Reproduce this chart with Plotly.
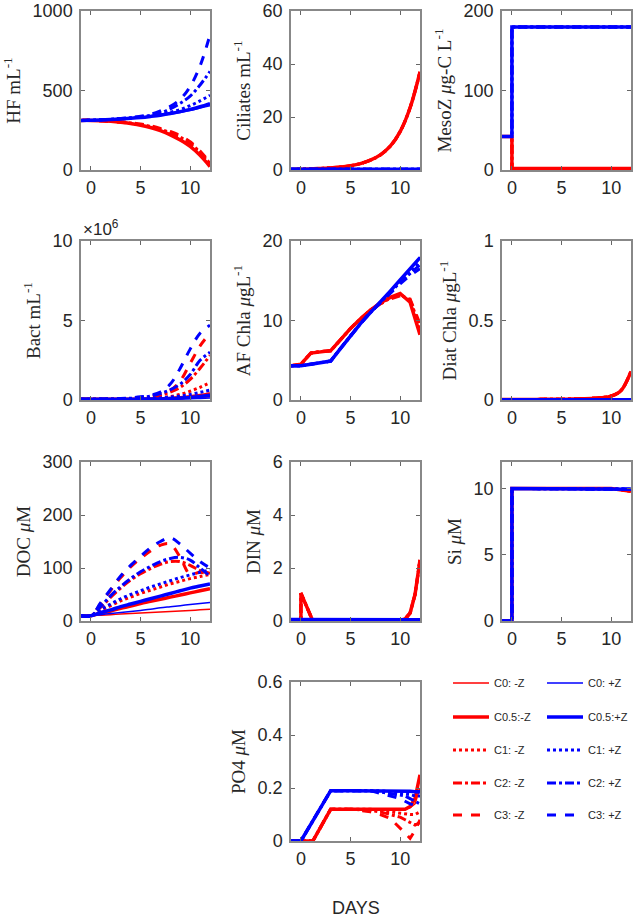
import plotly.graph_objects as go

W, H = 633, 917

# ---------------- data ----------------
days = [-1, 0, 1, 2, 3, 4, 5, 6, 7, 8, 9, 10, 11, 12]

red_labels = ["C0: -Z", "C0.5:-Z", "C1: -Z", "C2: -Z", "C3: -Z"]
blue_labels = ["C0: +Z", "C0.5:+Z", "C1: +Z", "C2: +Z", "C3: +Z"]

# HF mL-1
hf_m_c0 = [312, 312, 310, 306, 300, 292, 282, 268, 248, 222, 190, 150, 95, 25]
hf_m_c05 = [312, 312, 310, 306, 300, 292, 282, 267, 247, 221, 188, 148, 92, 22]
hf_m_c1 = [312, 312, 310, 306, 301, 293, 284, 271, 252, 228, 198, 160, 105, 35]
hf_m_c2 = [312, 312, 310, 307, 302, 295, 286, 274, 257, 235, 207, 168, 112, 40]
hf_m_c3 = [312, 312, 310, 307, 303, 297, 289, 278, 262, 242, 216, 178, 120, 45]
hf_p_c0 = [312, 313, 315, 318, 321, 325, 330, 336, 343, 352, 362, 374, 390, 405]
hf_p_c05 = [312, 313, 315, 318, 321, 325, 330, 337, 345, 355, 367, 381, 398, 418]
hf_p_c1 = [312, 313, 315, 318, 322, 327, 333, 340, 350, 363, 380, 405, 435, 470]
hf_p_c2 = [312, 313, 315, 319, 323, 328, 335, 344, 358, 385, 420, 465, 535, 620]
hf_p_c3 = [312, 313, 316, 319, 324, 330, 338, 350, 372, 400, 445, 525, 655, 850]

# Ciliates mL-1
cil_m = [0.2, 0.3, 0.4, 0.6, 0.8, 1.1, 1.6, 2.4, 3.7, 5.7, 9.0, 14.5, 23.5, 37.0]
cil_p = [0.3, 0.3, 0.3, 0.3, 0.3, 0.3, 0.3, 0.3, 0.3, 0.3, 0.3, 0.3, 0.3, 0.3]

# MesoZ ug-C L-1
meso_days = [-1, 0, 0, 12]
meso_m = [42, 42, 2, 2]
meso_p = [42, 42, 180, 180]

# Bact mL-1 (x 10^6)
bact_m_c0 = [0.05, 0.05, 0.05, 0.05, 0.05, 0.05, 0.05, 0.06, 0.07, 0.08, 0.10, 0.12, 0.15, 0.20]
bact_m_c05 = [0.05, 0.05, 0.05, 0.05, 0.05, 0.05, 0.06, 0.07, 0.08, 0.10, 0.14, 0.20, 0.28, 0.40]
bact_m_c1 = [0.05, 0.05, 0.05, 0.05, 0.05, 0.06, 0.08, 0.10, 0.15, 0.22, 0.35, 0.55, 0.80, 1.10]
bact_m_c2 = [0.05, 0.05, 0.05, 0.06, 0.07, 0.09, 0.12, 0.18, 0.30, 0.50, 0.80, 1.30, 2.00, 2.80]
bact_m_c3 = [0.05, 0.05, 0.05, 0.06, 0.08, 0.11, 0.16, 0.22, 0.32, 0.60, 1.20, 2.30, 3.40, 4.20]
bact_p_c0 = [0.05, 0.05, 0.05, 0.05, 0.05, 0.05, 0.05, 0.05, 0.06, 0.06, 0.07, 0.08, 0.10, 0.12]
bact_p_c05 = [0.05, 0.05, 0.05, 0.05, 0.05, 0.05, 0.06, 0.06, 0.07, 0.09, 0.12, 0.16, 0.22, 0.30]
bact_p_c1 = [0.05, 0.05, 0.05, 0.05, 0.05, 0.06, 0.07, 0.09, 0.13, 0.18, 0.25, 0.35, 0.48, 0.62]
bact_p_c2 = [0.05, 0.05, 0.05, 0.06, 0.08, 0.11, 0.16, 0.25, 0.40, 0.65, 1.00, 1.60, 2.50, 3.00]
bact_p_c3 = [0.05, 0.05, 0.06, 0.07, 0.09, 0.13, 0.20, 0.30, 0.50, 1.00, 2.00, 3.20, 4.20, 4.70]

# AF Chla ug L-1
af_m_c0 = [4.3, 4.5, 5.9, 6.1, 6.2, 7.6, 9.0, 10.2, 11.3, 12.2, 12.9, 13.4, 12.4, 8.4]
af_m_c05 = [4.3, 4.5, 5.9, 6.1, 6.2, 7.6, 9.0, 10.2, 11.3, 12.2, 12.9, 13.4, 12.3, 8.2]
af_m_c1 = [4.3, 4.5, 5.9, 6.1, 6.2, 7.6, 9.0, 10.2, 11.3, 12.2, 12.9, 13.3, 12.5, 8.8]
af_m_c2 = [4.3, 4.5, 5.9, 6.1, 6.2, 7.6, 9.0, 10.2, 11.3, 12.1, 12.8, 13.2, 12.6, 9.2]
af_m_c3 = [4.3, 4.5, 5.9, 6.1, 6.2, 7.6, 9.0, 10.2, 11.2, 12.1, 12.7, 13.1, 12.7, 9.6]
af_p_c0 = [4.3, 4.3, 4.5, 4.7, 4.9, 6.5, 8.1, 9.6, 11.0, 12.3, 13.7, 15.1, 16.6, 18.0]
af_p_c05 = [4.3, 4.3, 4.5, 4.7, 4.9, 6.5, 8.1, 9.6, 11.0, 12.3, 13.7, 15.1, 16.5, 17.9]
af_p_c1 = [4.3, 4.3, 4.5, 4.7, 4.9, 6.5, 8.1, 9.6, 11.0, 12.3, 13.6, 14.9, 16.2, 17.4]
af_p_c2 = [4.3, 4.3, 4.5, 4.7, 4.9, 6.5, 8.1, 9.6, 11.0, 12.3, 13.6, 14.8, 15.9, 17.0]
af_p_c3 = [4.3, 4.3, 4.5, 4.7, 4.9, 6.5, 8.1, 9.6, 11.0, 12.2, 13.5, 14.6, 15.7, 16.5]

# Diat Chla ug L-1
diat_m = [0.003, 0.003, 0.003, 0.003, 0.004, 0.004, 0.005, 0.006, 0.008, 0.010, 0.015, 0.025, 0.060, 0.180]
diat_p = [0.002, 0.002, 0.002, 0.002, 0.002, 0.002, 0.002, 0.002, 0.002, 0.002, 0.002, 0.002, 0.002, 0.002]

# DOC uM
doc_m_c0 = [10, 10, 11, 12, 13, 14, 15, 16, 17, 18, 19, 20, 21, 22]
doc_m_c05 = [10, 10, 15, 19, 24, 28, 33, 37, 41, 45, 49, 53, 57, 61]
doc_m_c1 = [10, 10, 20, 29, 38, 45, 52, 58, 64, 70, 75, 80, 84, 88]
doc_m_c2 = [10, 10, 26, 45, 62, 77, 89, 99, 107, 112, 112, 105, 95, 90]
doc_m_c3 = [10, 10, 33, 58, 82, 102, 118, 132, 143, 145, 120, 88, 92, 88]
doc_p_c0 = [10, 10, 12, 14, 16, 18, 20, 22, 25, 27, 29, 31, 33, 35]
doc_p_c05 = [10, 10, 16, 21, 27, 32, 37, 42, 47, 52, 57, 62, 66, 70]
doc_p_c1 = [10, 10, 22, 32, 42, 50, 57, 64, 70, 76, 82, 87, 92, 96]
doc_p_c2 = [10, 10, 28, 48, 65, 80, 93, 103, 112, 118, 120, 115, 100, 85]
doc_p_c3 = [10, 10, 35, 60, 85, 105, 122, 138, 150, 157, 145, 128, 112, 100]

# DIN uM
din_days = [-1, 0, 0, 1.2, 6, 10, 10.5, 11, 11.5, 12]
din_m = [0, 0, 1.05, 0, 0, 0.02, 0.08, 0.3, 1.0, 2.3]
din_p = [0.06, 0.06, 0.06, 0.05, 0.05, 0.05, 0.05, 0.05, 0.05, 0.05]

# Si uM
si_days = [-1, 0, 0, 10, 12]
si_m = [0, 0, 10, 10, 9.8]
si_p = [0, 0, 10, 10, 9.95]

# PO4 uM
po4_days = [-1, 0, 1.2, 3, 5, 7, 8, 9, 10, 10.5, 11, 11.5, 12]
po4_m_c0 = [0, 0, 0, 0.12, 0.12, 0.12, 0.12, 0.12, 0.12, 0.12, 0.125, 0.14, 0.20]
po4_m_c05 = [0, 0, 0, 0.12, 0.12, 0.12, 0.12, 0.12, 0.12, 0.12, 0.13, 0.16, 0.25]
po4_m_c1 = [0, 0, 0, 0.12, 0.12, 0.12, 0.115, 0.11, 0.105, 0.10, 0.10, 0.10, 0.11]
po4_m_c2 = [0, 0, 0, 0.12, 0.12, 0.115, 0.11, 0.10, 0.09, 0.08, 0.07, 0.06, 0.07]
po4_m_c3 = [0, 0, 0, 0.12, 0.12, 0.11, 0.10, 0.085, 0.05, 0.03, 0.01, 0.04, 0.08]
po4_p_c0 = [0, 0, 0.076, 0.19, 0.19, 0.19, 0.19, 0.19, 0.19, 0.19, 0.19, 0.19, 0.19]
po4_p_c05 = [0, 0, 0.076, 0.19, 0.19, 0.19, 0.19, 0.19, 0.19, 0.19, 0.188, 0.186, 0.185]
po4_p_c1 = [0, 0, 0.076, 0.19, 0.19, 0.19, 0.19, 0.185, 0.18, 0.18, 0.175, 0.17, 0.17]
po4_p_c2 = [0, 0, 0.076, 0.19, 0.19, 0.19, 0.185, 0.18, 0.175, 0.17, 0.16, 0.15, 0.14]
po4_p_c3 = [0, 0, 0.076, 0.19, 0.19, 0.19, 0.18, 0.17, 0.16, 0.15, 0.14, 0.135, 0.13]

# ---------------- panels ----------------
panels = [
    dict(title="HF mL<sup>-1</sup>", x=days, shape="spline",
         red=[hf_m_c0, hf_m_c05, hf_m_c1, hf_m_c2, hf_m_c3],
         blue=[hf_p_c0, hf_p_c05, hf_p_c1, hf_p_c2, hf_p_c3],
         yr=[0, 1000], yt=[0, 500, 1000], col=0, row=0),
    dict(title="Ciliates mL<sup>-1</sup>", x=days, shape="spline",
         red=[cil_m] * 5, blue=[cil_p] * 5,
         yr=[0, 60], yt=[0, 20, 40, 60], col=1, row=0),
    dict(title="MesoZ <i>\u03bc</i>g-C L<sup>-1</sup>", x=meso_days, shape="linear",
         red=[meso_m] * 5, blue=[meso_p] * 5,
         yr=[0, 200], yt=[0, 100, 200], col=2, row=0),
    dict(title="Bact mL<sup>-1</sup>", x=days, shape="spline",
         red=[bact_m_c0, bact_m_c05, bact_m_c1, bact_m_c2, bact_m_c3],
         blue=[bact_p_c0, bact_p_c05, bact_p_c1, bact_p_c2, bact_p_c3],
         yr=[0, 10], yt=[0, 5, 10], col=0, row=1),
    dict(title="AF Chla <i>\u03bc</i>gL<sup>-1</sup>", x=days, shape="linear",
         red=[af_m_c0, af_m_c05, af_m_c1, af_m_c2, af_m_c3],
         blue=[af_p_c0, af_p_c05, af_p_c1, af_p_c2, af_p_c3],
         yr=[0, 20], yt=[0, 10, 20], col=1, row=1),
    dict(title="Diat Chla <i>\u03bc</i>gL<sup>-1</sup>", x=days, shape="spline",
         red=[diat_m] * 5, blue=[diat_p] * 5,
         yr=[0, 1], yt=[0, 0.5, 1], col=2, row=1),
    dict(title="DOC <i>\u03bc</i>M", x=days, shape="spline",
         red=[doc_m_c0, doc_m_c05, doc_m_c1, doc_m_c2, doc_m_c3],
         blue=[doc_p_c0, doc_p_c05, doc_p_c1, doc_p_c2, doc_p_c3],
         yr=[0, 300], yt=[0, 100, 200, 300], col=0, row=2),
    dict(title="DIN <i>\u03bc</i>M", x=din_days, shape="linear",
         red=[din_m] * 5, blue=[din_p] * 5,
         yr=[0, 6], yt=[0, 2, 4, 6], col=1, row=2),
    dict(title="Si <i>\u03bc</i>M", x=si_days, shape="linear",
         red=[si_m] * 5, blue=[si_p] * 5,
         yr=[0, 12], yt=[0, 5, 10], col=2, row=2),
    dict(title="PO4 <i>\u03bc</i>M", x=po4_days, shape="linear",
         red=[po4_m_c0, po4_m_c05, po4_m_c1, po4_m_c2, po4_m_c3],
         blue=[po4_p_c0, po4_p_c05, po4_p_c1, po4_p_c2, po4_p_c3],
         yr=[0, 0.6], yt=[0, 0.2, 0.4, 0.6], col=1, row=3),
]

# ---------------- styling ----------------
col_px = [(81, 210), (291, 420), (502, 631)]
row_px = [(11, 170), (241, 400), (462, 621), (682, 841)]
line_styles = [
    dict(width=1.5, dash="solid"),
    dict(width=3.5, dash="solid"),
    dict(width=3, dash="dot"),
    dict(width=3, dash="dashdot"),
    dict(width=3, dash="dash"),
]
RED, BLUE = "#ff0000", "#0000ff"
TXT = "#262626"
SANS = "Liberation Sans, Arial, sans-serif"
SERIF = "Liberation Serif, Times New Roman, serif"

legend_keys = ["legend"] + ["legend%d" % i for i in range(2, 11)]

fig = go.Figure()
layout = dict(
    width=W, height=H, margin=dict(l=0, r=0, t=0, b=0, pad=0, autoexpand=False),
    paper_bgcolor="white", plot_bgcolor="white", showlegend=True,
)

for k, p in enumerate(panels, start=1):
    xa = "x" if k == 1 else "x%d" % k
    ya = "y" if k == 1 else "y%d" % k
    (x0, x1) = col_px[p["col"]]
    (y0, y1) = row_px[p["row"]]
    layout["xaxis" if k == 1 else "xaxis%d" % k] = dict(
        domain=[x0 / W, x1 / W], anchor=ya, range=[-1, 12],
        tickvals=[0, 5, 10], ticks="inside", ticklen=4, tickcolor="#666",
        showline=True, mirror="ticks", linecolor="#888", linewidth=1.5,
        showgrid=False, zeroline=False, ticklabelstandoff=1,
        tickfont=dict(family=SANS, size=18, color=TXT),
    )
    layout["yaxis" if k == 1 else "yaxis%d" % k] = dict(
        domain=[1 - y1 / H, 1 - y0 / H], anchor=xa, range=p["yr"],
        tickvals=p["yt"], ticks="inside", ticklen=4, tickcolor="#666",
        showline=True, mirror="ticks", linecolor="#888", linewidth=1.5,
        showgrid=False, zeroline=False, ticklabelstandoff=3,
        tickfont=dict(family=SANS, size=18, color=TXT),
        title=dict(text=p["title"], standoff=7,
                   font=dict(family=SERIF, size=19, color=TXT)),
    )
    groups = [(p["red"], RED, red_labels, 0), (p["blue"], BLUE, blue_labels, 5)]
    for vals_list, color, labels, off in groups:
        for j, vals in enumerate(vals_list):
            st = line_styles[j]
            fig.add_trace(go.Scatter(
                x=p["x"], y=vals, xaxis=xa, yaxis=ya, mode="lines",
                line=dict(color=color, width=st["width"], dash=st["dash"],
                          shape=p["shape"]),
                name=labels[j], showlegend=(k == 1),
                legend=legend_keys[off + j],
            ))

# legends, one entry each, arranged 2 columns x 5 rows
leg_cols = [448, 542]
leg_rows = [683, 717, 750, 783, 815]
for i, key in enumerate(legend_keys):
    c = i // 5
    r = i % 5
    layout[key] = dict(
        x=leg_cols[c] / W, y=1 - leg_rows[r] / H, xanchor="left", yanchor="middle",
        bgcolor="rgba(0,0,0,0)", borderwidth=0, itemwidth=36,
        font=dict(family=SANS, size=11, color=TXT),
    )

layout["annotations"] = [
    dict(text="\u00d710<sup>6</sup>", x=81 / W, y=1 - 241 / H, xref="paper", yref="paper",
         xanchor="left", yanchor="bottom", showarrow=False,
         font=dict(family=SANS, size=17, color=TXT)),
    dict(text="DAYS", x=356 / W, y=1 - 908 / H, xref="paper", yref="paper",
         xanchor="center", yanchor="middle", showarrow=False,
         font=dict(family=SANS, size=18, color=TXT)),
]

fig.update_layout(**layout)
fig.write_html(
    "out.html",
    config={"displayModeBar": False},
    post_script="document.body.style.margin='0';document.body.style.overflow='hidden';",
)
